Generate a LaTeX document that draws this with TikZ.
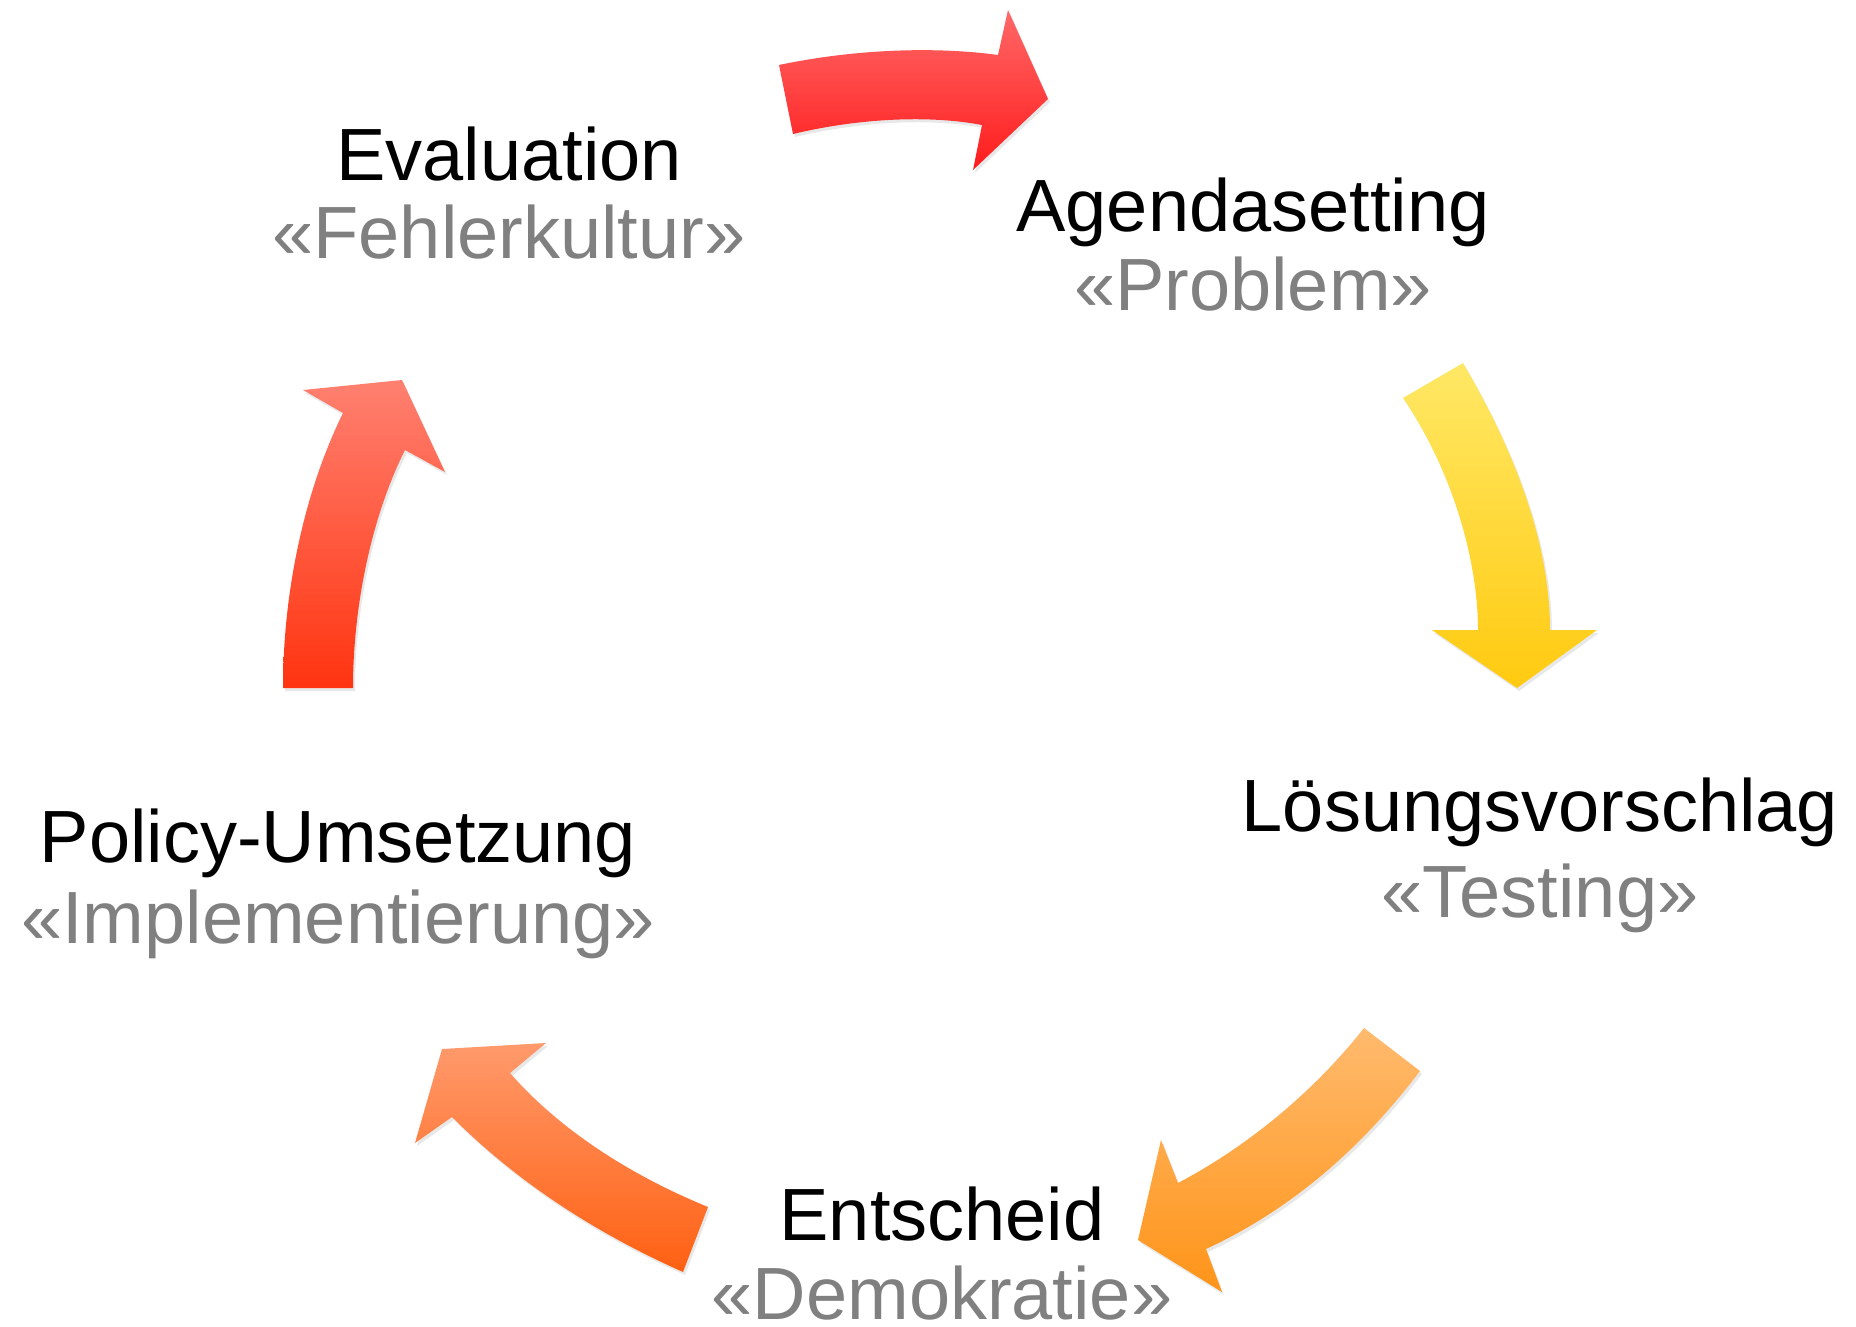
\documentclass[tikz,border=0pt]{standalone}
\usepackage{fontspec}
\setmainfont{Liberation Sans}
\usepackage{tikz}
\usetikzlibrary{shadows}

\definecolor{mottogray}{HTML}{808080}
\definecolor{redA}{HTML}{FF6868}
\definecolor{redB}{HTML}{FF1C1C}
\definecolor{yelA}{HTML}{FFE866}
\definecolor{yelB}{HTML}{FFCA10}
\definecolor{oraA}{HTML}{FFBA6E}
\definecolor{oraB}{HTML}{FF9418}
\definecolor{venA}{HTML}{FF9A6C}
\definecolor{venB}{HTML}{FF6012}
\definecolor{scaA}{HTML}{FF8070}
\definecolor{scaB}{HTML}{FF3410}

\begin{document}
\begin{tikzpicture}[x=1pt,y=-1pt,
	stage/.style={anchor=base,inner sep=0pt,font=\fontsize{74}{80}\selectfont},
	motto/.style={stage,text=mottogray},
	blade/.style 2 args={top color=#1,bottom color=#2,draw=none,
		drop shadow={opacity=.18,shadow xshift=2pt,shadow yshift=-3pt}}]
	\useasboundingbox (0,0) rectangle (1856,1326);

	% stages of the cycle
	\node[stage] (eval)   at (509,180)  {Evaluation};
	\node[motto] (fehler) at (509,258)  {«Fehlerkultur»};
	\node[stage] (agenda) at (1253,231) {Agendasetting};
	\node[motto] (problem) at (1253,310) {«Problem»};
	\node[stage] (loesung) at (1540,831) {Lösungsvorschlag};
	\node[motto] (testing) at (1540,917) {«Testing»};
	\node[stage] (entscheid) at (942,1240) {Entscheid};
	\node[motto] (demokratie) at (942,1319) {«Demokratie»};
	\node[stage] (policy) at (338,862) {Policy-Umsetzung};
	\node[motto] (implement) at (338,943) {«Implementierung»};

	% curved block arrows
	\path[blade={redA}{redB}] (779,65) .. controls (860,48) and (940,47) .. (998,55)
		-- (1008,10) -- (1048,99) -- (973,170) -- (982,125)
		.. controls (930,115) and (860,118) .. (793,134) -- cycle;
	\path[blade={yelA}{yelB}] (1403,398) -- (1463,363)
		.. controls (1520,460) and (1550,550) .. (1550,630)
		-- (1597,630) -- (1517,688) -- (1432,630) -- (1478,630)
		.. controls (1478,560) and (1452,470) .. (1403,398) -- cycle;
	\path[blade={oraA}{oraB}] (1364,1028) -- (1420,1071)
		.. controls (1360,1150) and (1290,1210) .. (1206,1249)
		-- (1222,1292) -- (1138,1240) -- (1161,1140) -- (1178,1183)
		.. controls (1250,1145) and (1315,1090) .. (1364,1028) -- cycle;
	\path[blade={venA}{venB}] (708,1207)
		.. controls (630,1175) and (560,1130) .. (510,1073)
		-- (546,1043) -- (442,1049) -- (415,1143) -- (452,1117)
		.. controls (520,1185) and (600,1235) .. (683,1272) -- cycle;
	\path[blade={scaA}{scaB}] (283,688)
		.. controls (283,590) and (305,490) .. (343,413)
		-- (303,390) -- (402,380) -- (445,472) -- (405,450)
		.. controls (370,520) and (353,610) .. (353,688) -- cycle;
\end{tikzpicture}
\end{document}
